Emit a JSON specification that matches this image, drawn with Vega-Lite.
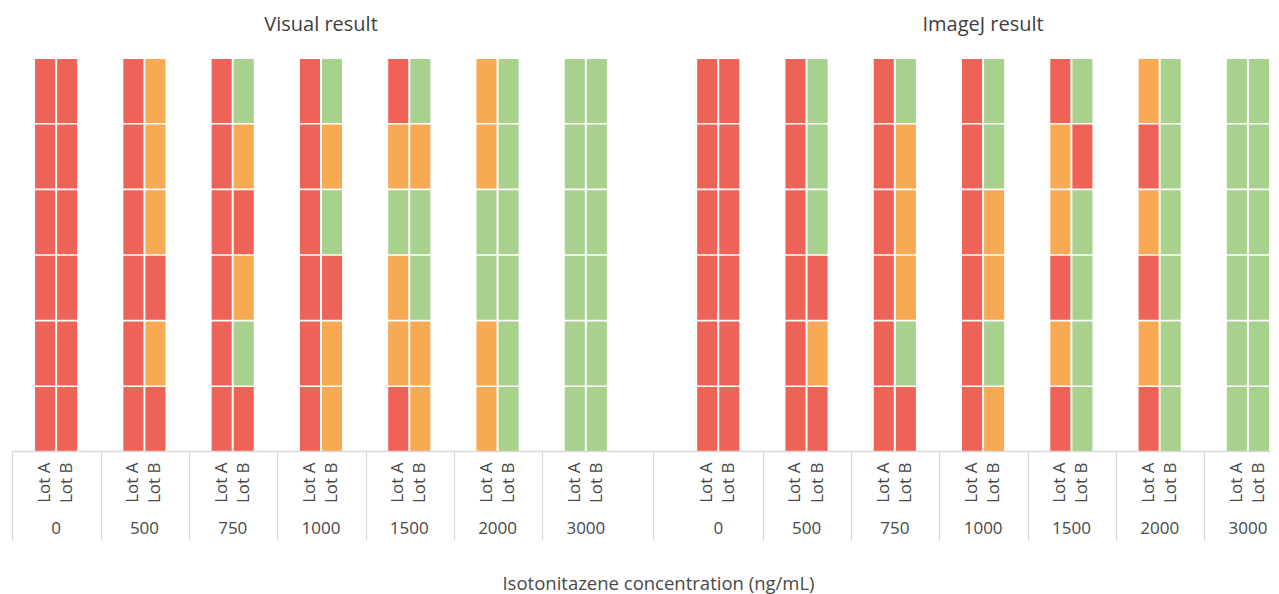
{
  "$schema": "https://vega.github.io/schema/vega-lite/v6.json",
  "autosize": "none",
  "width": 1258,
  "height": 392,
  "padding": {"left": 12, "top": 59, "right": 9, "bottom": 143},
  "background": "white",
  "config": {"font": "Open Sans", "view": {"stroke": null}},
  "data": {"values": [
    {"panel":"Visual","conc":0,"lot":"Lot A","rep":1,"result":"Negative"},
    {"panel":"Visual","conc":0,"lot":"Lot A","rep":2,"result":"Negative"},
    {"panel":"Visual","conc":0,"lot":"Lot A","rep":3,"result":"Negative"},
    {"panel":"Visual","conc":0,"lot":"Lot A","rep":4,"result":"Negative"},
    {"panel":"Visual","conc":0,"lot":"Lot A","rep":5,"result":"Negative"},
    {"panel":"Visual","conc":0,"lot":"Lot A","rep":6,"result":"Negative"},
    {"panel":"Visual","conc":0,"lot":"Lot B","rep":1,"result":"Negative"},
    {"panel":"Visual","conc":0,"lot":"Lot B","rep":2,"result":"Negative"},
    {"panel":"Visual","conc":0,"lot":"Lot B","rep":3,"result":"Negative"},
    {"panel":"Visual","conc":0,"lot":"Lot B","rep":4,"result":"Negative"},
    {"panel":"Visual","conc":0,"lot":"Lot B","rep":5,"result":"Negative"},
    {"panel":"Visual","conc":0,"lot":"Lot B","rep":6,"result":"Negative"},
    {"panel":"Visual","conc":500,"lot":"Lot A","rep":1,"result":"Negative"},
    {"panel":"Visual","conc":500,"lot":"Lot A","rep":2,"result":"Negative"},
    {"panel":"Visual","conc":500,"lot":"Lot A","rep":3,"result":"Negative"},
    {"panel":"Visual","conc":500,"lot":"Lot A","rep":4,"result":"Negative"},
    {"panel":"Visual","conc":500,"lot":"Lot A","rep":5,"result":"Negative"},
    {"panel":"Visual","conc":500,"lot":"Lot A","rep":6,"result":"Negative"},
    {"panel":"Visual","conc":500,"lot":"Lot B","rep":1,"result":"Faint"},
    {"panel":"Visual","conc":500,"lot":"Lot B","rep":2,"result":"Faint"},
    {"panel":"Visual","conc":500,"lot":"Lot B","rep":3,"result":"Faint"},
    {"panel":"Visual","conc":500,"lot":"Lot B","rep":4,"result":"Negative"},
    {"panel":"Visual","conc":500,"lot":"Lot B","rep":5,"result":"Faint"},
    {"panel":"Visual","conc":500,"lot":"Lot B","rep":6,"result":"Negative"},
    {"panel":"Visual","conc":750,"lot":"Lot A","rep":1,"result":"Negative"},
    {"panel":"Visual","conc":750,"lot":"Lot A","rep":2,"result":"Negative"},
    {"panel":"Visual","conc":750,"lot":"Lot A","rep":3,"result":"Negative"},
    {"panel":"Visual","conc":750,"lot":"Lot A","rep":4,"result":"Negative"},
    {"panel":"Visual","conc":750,"lot":"Lot A","rep":5,"result":"Negative"},
    {"panel":"Visual","conc":750,"lot":"Lot A","rep":6,"result":"Negative"},
    {"panel":"Visual","conc":750,"lot":"Lot B","rep":1,"result":"Positive"},
    {"panel":"Visual","conc":750,"lot":"Lot B","rep":2,"result":"Faint"},
    {"panel":"Visual","conc":750,"lot":"Lot B","rep":3,"result":"Negative"},
    {"panel":"Visual","conc":750,"lot":"Lot B","rep":4,"result":"Faint"},
    {"panel":"Visual","conc":750,"lot":"Lot B","rep":5,"result":"Positive"},
    {"panel":"Visual","conc":750,"lot":"Lot B","rep":6,"result":"Negative"},
    {"panel":"Visual","conc":1000,"lot":"Lot A","rep":1,"result":"Negative"},
    {"panel":"Visual","conc":1000,"lot":"Lot A","rep":2,"result":"Negative"},
    {"panel":"Visual","conc":1000,"lot":"Lot A","rep":3,"result":"Negative"},
    {"panel":"Visual","conc":1000,"lot":"Lot A","rep":4,"result":"Negative"},
    {"panel":"Visual","conc":1000,"lot":"Lot A","rep":5,"result":"Negative"},
    {"panel":"Visual","conc":1000,"lot":"Lot A","rep":6,"result":"Negative"},
    {"panel":"Visual","conc":1000,"lot":"Lot B","rep":1,"result":"Positive"},
    {"panel":"Visual","conc":1000,"lot":"Lot B","rep":2,"result":"Faint"},
    {"panel":"Visual","conc":1000,"lot":"Lot B","rep":3,"result":"Positive"},
    {"panel":"Visual","conc":1000,"lot":"Lot B","rep":4,"result":"Negative"},
    {"panel":"Visual","conc":1000,"lot":"Lot B","rep":5,"result":"Faint"},
    {"panel":"Visual","conc":1000,"lot":"Lot B","rep":6,"result":"Faint"},
    {"panel":"Visual","conc":1500,"lot":"Lot A","rep":1,"result":"Negative"},
    {"panel":"Visual","conc":1500,"lot":"Lot A","rep":2,"result":"Faint"},
    {"panel":"Visual","conc":1500,"lot":"Lot A","rep":3,"result":"Positive"},
    {"panel":"Visual","conc":1500,"lot":"Lot A","rep":4,"result":"Faint"},
    {"panel":"Visual","conc":1500,"lot":"Lot A","rep":5,"result":"Faint"},
    {"panel":"Visual","conc":1500,"lot":"Lot A","rep":6,"result":"Negative"},
    {"panel":"Visual","conc":1500,"lot":"Lot B","rep":1,"result":"Positive"},
    {"panel":"Visual","conc":1500,"lot":"Lot B","rep":2,"result":"Faint"},
    {"panel":"Visual","conc":1500,"lot":"Lot B","rep":3,"result":"Positive"},
    {"panel":"Visual","conc":1500,"lot":"Lot B","rep":4,"result":"Positive"},
    {"panel":"Visual","conc":1500,"lot":"Lot B","rep":5,"result":"Faint"},
    {"panel":"Visual","conc":1500,"lot":"Lot B","rep":6,"result":"Faint"},
    {"panel":"Visual","conc":2000,"lot":"Lot A","rep":1,"result":"Faint"},
    {"panel":"Visual","conc":2000,"lot":"Lot A","rep":2,"result":"Faint"},
    {"panel":"Visual","conc":2000,"lot":"Lot A","rep":3,"result":"Positive"},
    {"panel":"Visual","conc":2000,"lot":"Lot A","rep":4,"result":"Positive"},
    {"panel":"Visual","conc":2000,"lot":"Lot A","rep":5,"result":"Faint"},
    {"panel":"Visual","conc":2000,"lot":"Lot A","rep":6,"result":"Faint"},
    {"panel":"Visual","conc":2000,"lot":"Lot B","rep":1,"result":"Positive"},
    {"panel":"Visual","conc":2000,"lot":"Lot B","rep":2,"result":"Positive"},
    {"panel":"Visual","conc":2000,"lot":"Lot B","rep":3,"result":"Positive"},
    {"panel":"Visual","conc":2000,"lot":"Lot B","rep":4,"result":"Positive"},
    {"panel":"Visual","conc":2000,"lot":"Lot B","rep":5,"result":"Positive"},
    {"panel":"Visual","conc":2000,"lot":"Lot B","rep":6,"result":"Positive"},
    {"panel":"Visual","conc":3000,"lot":"Lot A","rep":1,"result":"Positive"},
    {"panel":"Visual","conc":3000,"lot":"Lot A","rep":2,"result":"Positive"},
    {"panel":"Visual","conc":3000,"lot":"Lot A","rep":3,"result":"Positive"},
    {"panel":"Visual","conc":3000,"lot":"Lot A","rep":4,"result":"Positive"},
    {"panel":"Visual","conc":3000,"lot":"Lot A","rep":5,"result":"Positive"},
    {"panel":"Visual","conc":3000,"lot":"Lot A","rep":6,"result":"Positive"},
    {"panel":"Visual","conc":3000,"lot":"Lot B","rep":1,"result":"Positive"},
    {"panel":"Visual","conc":3000,"lot":"Lot B","rep":2,"result":"Positive"},
    {"panel":"Visual","conc":3000,"lot":"Lot B","rep":3,"result":"Positive"},
    {"panel":"Visual","conc":3000,"lot":"Lot B","rep":4,"result":"Positive"},
    {"panel":"Visual","conc":3000,"lot":"Lot B","rep":5,"result":"Positive"},
    {"panel":"Visual","conc":3000,"lot":"Lot B","rep":6,"result":"Positive"},
    {"panel":"ImageJ","conc":0,"lot":"Lot A","rep":1,"result":"Negative"},
    {"panel":"ImageJ","conc":0,"lot":"Lot A","rep":2,"result":"Negative"},
    {"panel":"ImageJ","conc":0,"lot":"Lot A","rep":3,"result":"Negative"},
    {"panel":"ImageJ","conc":0,"lot":"Lot A","rep":4,"result":"Negative"},
    {"panel":"ImageJ","conc":0,"lot":"Lot A","rep":5,"result":"Negative"},
    {"panel":"ImageJ","conc":0,"lot":"Lot A","rep":6,"result":"Negative"},
    {"panel":"ImageJ","conc":0,"lot":"Lot B","rep":1,"result":"Negative"},
    {"panel":"ImageJ","conc":0,"lot":"Lot B","rep":2,"result":"Negative"},
    {"panel":"ImageJ","conc":0,"lot":"Lot B","rep":3,"result":"Negative"},
    {"panel":"ImageJ","conc":0,"lot":"Lot B","rep":4,"result":"Negative"},
    {"panel":"ImageJ","conc":0,"lot":"Lot B","rep":5,"result":"Negative"},
    {"panel":"ImageJ","conc":0,"lot":"Lot B","rep":6,"result":"Negative"},
    {"panel":"ImageJ","conc":500,"lot":"Lot A","rep":1,"result":"Negative"},
    {"panel":"ImageJ","conc":500,"lot":"Lot A","rep":2,"result":"Negative"},
    {"panel":"ImageJ","conc":500,"lot":"Lot A","rep":3,"result":"Negative"},
    {"panel":"ImageJ","conc":500,"lot":"Lot A","rep":4,"result":"Negative"},
    {"panel":"ImageJ","conc":500,"lot":"Lot A","rep":5,"result":"Negative"},
    {"panel":"ImageJ","conc":500,"lot":"Lot A","rep":6,"result":"Negative"},
    {"panel":"ImageJ","conc":500,"lot":"Lot B","rep":1,"result":"Positive"},
    {"panel":"ImageJ","conc":500,"lot":"Lot B","rep":2,"result":"Positive"},
    {"panel":"ImageJ","conc":500,"lot":"Lot B","rep":3,"result":"Positive"},
    {"panel":"ImageJ","conc":500,"lot":"Lot B","rep":4,"result":"Negative"},
    {"panel":"ImageJ","conc":500,"lot":"Lot B","rep":5,"result":"Faint"},
    {"panel":"ImageJ","conc":500,"lot":"Lot B","rep":6,"result":"Negative"},
    {"panel":"ImageJ","conc":750,"lot":"Lot A","rep":1,"result":"Negative"},
    {"panel":"ImageJ","conc":750,"lot":"Lot A","rep":2,"result":"Negative"},
    {"panel":"ImageJ","conc":750,"lot":"Lot A","rep":3,"result":"Negative"},
    {"panel":"ImageJ","conc":750,"lot":"Lot A","rep":4,"result":"Negative"},
    {"panel":"ImageJ","conc":750,"lot":"Lot A","rep":5,"result":"Negative"},
    {"panel":"ImageJ","conc":750,"lot":"Lot A","rep":6,"result":"Negative"},
    {"panel":"ImageJ","conc":750,"lot":"Lot B","rep":1,"result":"Positive"},
    {"panel":"ImageJ","conc":750,"lot":"Lot B","rep":2,"result":"Faint"},
    {"panel":"ImageJ","conc":750,"lot":"Lot B","rep":3,"result":"Faint"},
    {"panel":"ImageJ","conc":750,"lot":"Lot B","rep":4,"result":"Faint"},
    {"panel":"ImageJ","conc":750,"lot":"Lot B","rep":5,"result":"Positive"},
    {"panel":"ImageJ","conc":750,"lot":"Lot B","rep":6,"result":"Negative"},
    {"panel":"ImageJ","conc":1000,"lot":"Lot A","rep":1,"result":"Negative"},
    {"panel":"ImageJ","conc":1000,"lot":"Lot A","rep":2,"result":"Negative"},
    {"panel":"ImageJ","conc":1000,"lot":"Lot A","rep":3,"result":"Negative"},
    {"panel":"ImageJ","conc":1000,"lot":"Lot A","rep":4,"result":"Negative"},
    {"panel":"ImageJ","conc":1000,"lot":"Lot A","rep":5,"result":"Negative"},
    {"panel":"ImageJ","conc":1000,"lot":"Lot A","rep":6,"result":"Negative"},
    {"panel":"ImageJ","conc":1000,"lot":"Lot B","rep":1,"result":"Positive"},
    {"panel":"ImageJ","conc":1000,"lot":"Lot B","rep":2,"result":"Positive"},
    {"panel":"ImageJ","conc":1000,"lot":"Lot B","rep":3,"result":"Faint"},
    {"panel":"ImageJ","conc":1000,"lot":"Lot B","rep":4,"result":"Faint"},
    {"panel":"ImageJ","conc":1000,"lot":"Lot B","rep":5,"result":"Positive"},
    {"panel":"ImageJ","conc":1000,"lot":"Lot B","rep":6,"result":"Faint"},
    {"panel":"ImageJ","conc":1500,"lot":"Lot A","rep":1,"result":"Negative"},
    {"panel":"ImageJ","conc":1500,"lot":"Lot A","rep":2,"result":"Faint"},
    {"panel":"ImageJ","conc":1500,"lot":"Lot A","rep":3,"result":"Faint"},
    {"panel":"ImageJ","conc":1500,"lot":"Lot A","rep":4,"result":"Negative"},
    {"panel":"ImageJ","conc":1500,"lot":"Lot A","rep":5,"result":"Faint"},
    {"panel":"ImageJ","conc":1500,"lot":"Lot A","rep":6,"result":"Negative"},
    {"panel":"ImageJ","conc":1500,"lot":"Lot B","rep":1,"result":"Positive"},
    {"panel":"ImageJ","conc":1500,"lot":"Lot B","rep":2,"result":"Negative"},
    {"panel":"ImageJ","conc":1500,"lot":"Lot B","rep":3,"result":"Positive"},
    {"panel":"ImageJ","conc":1500,"lot":"Lot B","rep":4,"result":"Positive"},
    {"panel":"ImageJ","conc":1500,"lot":"Lot B","rep":5,"result":"Positive"},
    {"panel":"ImageJ","conc":1500,"lot":"Lot B","rep":6,"result":"Positive"},
    {"panel":"ImageJ","conc":2000,"lot":"Lot A","rep":1,"result":"Faint"},
    {"panel":"ImageJ","conc":2000,"lot":"Lot A","rep":2,"result":"Negative"},
    {"panel":"ImageJ","conc":2000,"lot":"Lot A","rep":3,"result":"Faint"},
    {"panel":"ImageJ","conc":2000,"lot":"Lot A","rep":4,"result":"Negative"},
    {"panel":"ImageJ","conc":2000,"lot":"Lot A","rep":5,"result":"Faint"},
    {"panel":"ImageJ","conc":2000,"lot":"Lot A","rep":6,"result":"Negative"},
    {"panel":"ImageJ","conc":2000,"lot":"Lot B","rep":1,"result":"Positive"},
    {"panel":"ImageJ","conc":2000,"lot":"Lot B","rep":2,"result":"Positive"},
    {"panel":"ImageJ","conc":2000,"lot":"Lot B","rep":3,"result":"Positive"},
    {"panel":"ImageJ","conc":2000,"lot":"Lot B","rep":4,"result":"Positive"},
    {"panel":"ImageJ","conc":2000,"lot":"Lot B","rep":5,"result":"Positive"},
    {"panel":"ImageJ","conc":2000,"lot":"Lot B","rep":6,"result":"Positive"},
    {"panel":"ImageJ","conc":3000,"lot":"Lot A","rep":1,"result":"Positive"},
    {"panel":"ImageJ","conc":3000,"lot":"Lot A","rep":2,"result":"Positive"},
    {"panel":"ImageJ","conc":3000,"lot":"Lot A","rep":3,"result":"Positive"},
    {"panel":"ImageJ","conc":3000,"lot":"Lot A","rep":4,"result":"Positive"},
    {"panel":"ImageJ","conc":3000,"lot":"Lot A","rep":5,"result":"Positive"},
    {"panel":"ImageJ","conc":3000,"lot":"Lot A","rep":6,"result":"Positive"},
    {"panel":"ImageJ","conc":3000,"lot":"Lot B","rep":1,"result":"Positive"},
    {"panel":"ImageJ","conc":3000,"lot":"Lot B","rep":2,"result":"Positive"},
    {"panel":"ImageJ","conc":3000,"lot":"Lot B","rep":3,"result":"Positive"},
    {"panel":"ImageJ","conc":3000,"lot":"Lot B","rep":4,"result":"Positive"},
    {"panel":"ImageJ","conc":3000,"lot":"Lot B","rep":5,"result":"Positive"},
    {"panel":"ImageJ","conc":3000,"lot":"Lot B","rep":6,"result":"Positive"}
  ]},
  "transform": [
    {"calculate": "datum.panel + '|' + datum.conc + '|' + datum.lot", "as": "slot"}
  ],
  "layer": [
    {
      "mark": {"type": "rect"},
      "encoding": {
        "x": {
          "field": "slot", "type": "nominal",
          "scale": {
            "domain": [
              "Visual|0|<","Visual|0|Lot A","Visual|0|Lot B","Visual|0|>",
              "Visual|500|<","Visual|500|Lot A","Visual|500|Lot B","Visual|500|>",
              "Visual|750|<","Visual|750|Lot A","Visual|750|Lot B","Visual|750|>",
              "Visual|1000|<","Visual|1000|Lot A","Visual|1000|Lot B","Visual|1000|>",
              "Visual|1500|<","Visual|1500|Lot A","Visual|1500|Lot B","Visual|1500|>",
              "Visual|2000|<","Visual|2000|Lot A","Visual|2000|Lot B","Visual|2000|>",
              "Visual|3000|<","Visual|3000|Lot A","Visual|3000|Lot B","Visual|3000|>",
              "gap|1","gap|2",
              "ImageJ|0|<","ImageJ|0|Lot A","ImageJ|0|Lot B","ImageJ|0|>",
              "ImageJ|500|<","ImageJ|500|Lot A","ImageJ|500|Lot B","ImageJ|500|>",
              "ImageJ|750|<","ImageJ|750|Lot A","ImageJ|750|Lot B","ImageJ|750|>",
              "ImageJ|1000|<","ImageJ|1000|Lot A","ImageJ|1000|Lot B","ImageJ|1000|>",
              "ImageJ|1500|<","ImageJ|1500|Lot A","ImageJ|1500|Lot B","ImageJ|1500|>",
              "ImageJ|2000|<","ImageJ|2000|Lot A","ImageJ|2000|Lot B","ImageJ|2000|>",
              "ImageJ|3000|<","ImageJ|3000|Lot A","ImageJ|3000|Lot B"
            ],
            "paddingInner": 0.09,
            "paddingOuter": 0.045
          },
          "axis": {
            "orient": "bottom",
            "title": null,
            "labelExpr": "indexof(datum.value, 'Lot') >= 0 ? split(datum.value, '|')[2] : ''",
            "labelAngle": -90,
            "labelFontSize": 17,
            "labelColor": "#484848",
            "labelPadding": 11,
            "labelOverlap": false,
            "labelBound": false,
            "ticks": false,
            "tickSize": 0,
            "grid": false,
            "domain": true,
            "domainColor": "#d9d9d9",
            "domainWidth": 1.5
          }
        },
        "y": {"field": "rep", "type": "ordinal", "scale": {"paddingInner": 0.025, "paddingOuter": 0}, "axis": null},
        "color": {
          "field": "result", "type": "nominal",
          "scale": {"domain": ["Negative", "Faint", "Positive"], "range": ["#EF6257", "#F8A953", "#A9D18E"]},
          "legend": null
        }
      }
    },
    {
      "mark": {"type": "point", "opacity": 0},
      "encoding": {
        "x": {
          "field": "slot", "type": "nominal",
          "axis": {
            "orient": "bottom",
            "title": null,
            "values": ["Visual|0|<","Visual|500|<","Visual|750|<","Visual|1000|<","Visual|1500|<","Visual|2000|<","Visual|3000|<","gap|2","ImageJ|500|<","ImageJ|750|<","ImageJ|1000|<","ImageJ|1500|<","ImageJ|2000|<","ImageJ|3000|<"],
            "bandPosition": 0,
            "ticks": true,
            "tickSize": 89,
            "tickColor": "#d9d9d9",
            "tickWidth": 1.2,
            "labels": false,
            "domain": false,
            "grid": false
          }
        }
      }
    },
    {
      "mark": {"type": "point", "opacity": 0},
      "encoding": {
        "x": {
          "field": "slot", "type": "nominal",
          "axis": {
            "orient": "bottom",
            "values": ["Visual|0|Lot B","Visual|500|Lot B","Visual|750|Lot B","Visual|1000|Lot B","Visual|1500|Lot B","Visual|2000|Lot B","Visual|3000|Lot B","ImageJ|0|Lot B","ImageJ|500|Lot B","ImageJ|750|Lot B","ImageJ|1000|Lot B","ImageJ|1500|Lot B","ImageJ|2000|Lot B","ImageJ|3000|Lot B"],
            "labelExpr": "split(datum.value, '|')[1]",
            "labelOffset": -11,
            "labelPadding": 69,
            "labelAngle": 0,
            "labelFontSize": 17,
            "labelColor": "#484848",
            "labelOverlap": false,
            "labelBound": false,
            "ticks": false,
            "tickSize": 0,
            "domain": false,
            "grid": false,
            "title": "Isotonitazene concentration (ng/mL)",
            "titleFontSize": 18.5,
            "titleFontWeight": "normal",
            "titleColor": "#484848",
            "titlePadding": 38,
            "titleX": 646
          }
        }
      }
    },
    {
      "mark": {"type": "point", "opacity": 0},
      "encoding": {
        "x": {
          "field": "slot", "type": "nominal",
          "axis": {
            "orient": "top",
            "title": null,
            "values": ["Visual|1000|Lot B", "ImageJ|1000|Lot B"],
            "labelExpr": "split(datum.value, '|')[0] + ' result'",
            "labelOffset": -11,
            "labelPadding": 25,
            "labelAngle": 0,
            "labelFontSize": 20,
            "labelColor": "#404040",
            "labelOverlap": false,
            "labelBound": false,
            "ticks": false,
            "tickSize": 0,
            "domain": false,
            "grid": false
          }
        }
      }
    }
  ],
  "resolve": {"axis": {"x": "independent"}}
}
